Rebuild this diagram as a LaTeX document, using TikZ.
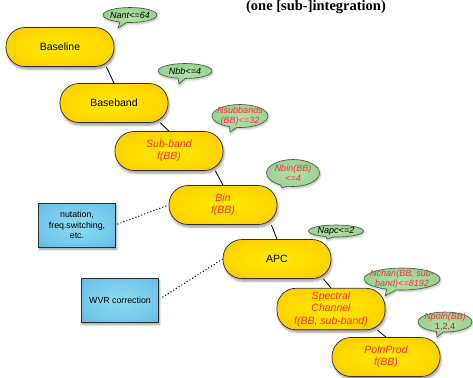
\documentclass[tikz,border=0pt]{standalone}
\usepackage{fontspec}
\setmainfont{Liberation Sans}
\newfontfamily\titlefont{Liberation Serif}
\usetikzlibrary{shapes.callouts,shadows.blur,calc}

\definecolor{inkred}{HTML}{FF2B40}
\definecolor{numred}{HTML}{B02030}
\definecolor{edgegrey}{HTML}{2E2E2E}
\definecolor{bubbleedge}{HTML}{3C5A3C}
\definecolor{pillA}{HTML}{FFEA00}
\definecolor{pillB}{HTML}{FFD800}
\definecolor{pillC}{HTML}{F8B808}
\definecolor{pillD}{HTML}{F0A800}
\definecolor{boxA}{HTML}{8CDCF2}
\definecolor{boxB}{HTML}{6CC2E8}
\definecolor{boxC}{HTML}{50A2D8}
\definecolor{bubA}{HTML}{B4E0A8}
\definecolor{bubB}{HTML}{94CE8C}
\definecolor{bubC}{HTML}{72B470}

% elliptical gradients, stretched to each node's bounding box
\pgfdeclareradialshading{pillshade}{\pgfpoint{0bp}{0bp}}{%
  color(0bp)=(pillA); color(22bp)=(pillB); color(44bp)=(pillC); color(50bp)=(pillD)}
\pgfdeclareradialshading{boxshade}{\pgfpoint{0bp}{0bp}}{%
  color(0bp)=(boxA); color(30bp)=(boxB); color(50bp)=(boxC)}
\pgfdeclareradialshading{bubbleshade}{\pgfpoint{0bp}{0bp}}{%
  color(0bp)=(bubA); color(30bp)=(bubB); color(50bp)=(bubC)}

\tikzset{
  pill/.style={rectangle, rounded corners=19pt, minimum width=108pt, minimum height=39pt,
    draw=edgegrey, line width=0.7pt, shading=pillshade, align=center,
    font=\fontsize{10.5}{12.5}\selectfont,
    blur shadow={shadow xshift=1pt, shadow yshift=-2.5pt, shadow blur steps=6, shadow opacity=40}},
  redtext/.style={text=inkred, font=\fontsize{10.5}{12.5}\selectfont\itshape},
  notebox/.style={rectangle, minimum width=77pt, minimum height=44pt,
    draw=edgegrey, line width=0.7pt, shading=boxshade, align=center,
    font=\fontsize{8.8}{10.5}\selectfont,
    blur shadow={shadow xshift=1pt, shadow yshift=-2.5pt, shadow blur steps=6, shadow opacity=40}},
  bubble/.style={ellipse callout, draw=bubbleedge, line width=0.6pt, shading=bubbleshade,
    inner sep=0pt,
    blur shadow={shadow xshift=0.8pt, shadow yshift=-1.5pt, shadow blur steps=4, shadow opacity=30}},
  bubbletext/.style={font=\fontsize{9}{10}\selectfont\itshape, align=center, inner sep=0pt},
  bubblered/.style={bubbletext, text=inkred},
  link/.style={draw=black, line width=0.8pt},
  dotlink/.style={draw=black, line width=1.4pt, line cap=round, dash pattern=on 0pt off 3.2pt}
}

\begin{document}
\begin{tikzpicture}[x=1pt, y=-1pt]
\useasboundingbox (0,0) rectangle (473,377);

% title
\node[anchor=base, font=\titlefont\bfseries\fontsize{14.5}{16}\selectfont, inner sep=0pt]
  (title) at (316,10.5) {(one [sub-]integration)};

% hierarchy of data levels
\node[pill] (baseline) at (60,47) {Baseline};
\node[pill] (baseband) at (114,103) {Baseband};
\node[pill, redtext] (subband) at (169,151) {Sub-band\\f(BB)};
\node[pill, redtext] (bin) at (223,205) {Bin\\f(BB)};
\node[pill] (apc) at (277,259) {APC};
\node[pill, redtext] (spectral) at (331,309) {Spectral\\Channel\\f(BB, sub-band)};
\node[pill, redtext] (polnprod) at (386,357) {PolnProd\\f(BB)};

\draw[link] ($(baseline.south east)+(-8,0)$) -- (baseband.north);
\draw[link] ($(baseband.south east)+(-8,0)$) -- (subband.north);
\draw[link] ($(subband.south east)+(-8,0)$) -- (bin.north);
\draw[link] ($(bin.south east)+(-6,0)$) -- (apc.north);
\draw[link] ($(apc.south east)+(-8,0)$) -- (spectral.north);
\draw[link] ($(spectral.south east)+(-8,0)$) -- (polnprod.north);

% side notes
\node[notebox] (nutation) at (77,225) {nutation,\\freq.switching,\\etc.};
\node[notebox] (wvr) at (120,300) {WVR correction};
\draw[dotlink] ($(nutation.east)+(2,-1)$) -- (bin.west);
\draw[dotlink] ($(wvr.east)+(4,-3)$) -- (apc.west);

% multiplicity callouts
\node[bubble, minimum width=54pt, minimum height=15pt, callout absolute pointer={(118,28)},
  label={[bubbletext]center:Nant<=64}] (cnant) at (130,15) {};
\node[bubble, minimum width=54pt, minimum height=15pt, callout absolute pointer={(179,84)},
  label={[bubbletext]center:Nbb<=4}] (cnbb) at (185,71) {};
\node[bubble, minimum width=56pt, minimum height=23pt, callout absolute pointer={(230,132)},
  label={[bubblered]center:Nsubbands\\(BB)<=32}] (cnsub) at (240,116) {};
\node[bubble, minimum width=53pt, minimum height=27pt, callout absolute pointer={(282,188)},
  label={[bubblered]center:Nbin(BB)\\<=4}] (cnbin) at (293,173) {};
\node[bubble, minimum width=55pt, minimum height=12pt, callout absolute pointer={(327,239)},
  label={[bubbletext]center:Napc<=2}] (cnapc) at (336,231) {};
\node[bubble, minimum width=76pt, minimum height=22pt, callout absolute pointer={(385,296)},
  label={[bubblered]center:Nchan(BB, sub-\\band)<=8192}] (cnchan) at (402,279) {};
\node[bubble, minimum width=54pt, minimum height=20pt, callout absolute pointer={(437,337)},
  label={[bubblered]center:Npoln(BB)\\{\upshape\color{numred}1,2,4}}] (cnpoln) at (445,322) {};
\end{tikzpicture}
\end{document}
